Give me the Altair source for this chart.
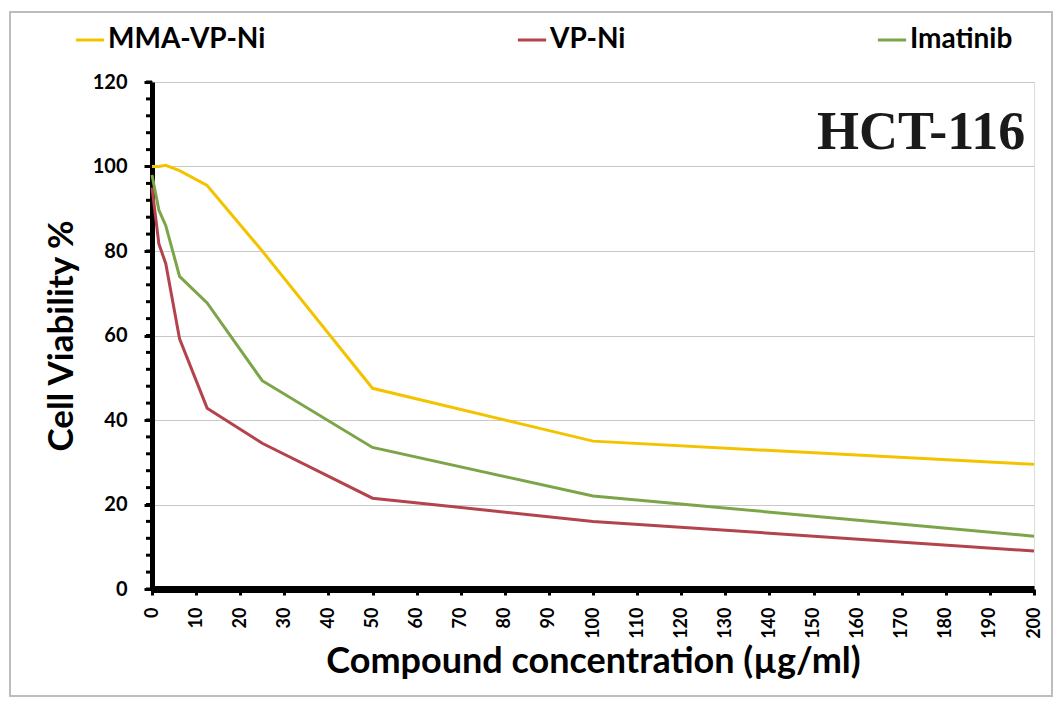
import altair as alt
import pandas as pd

conc = [0, 1.56, 3.125, 6.25, 12.5, 25, 50, 100, 200]
mma_vp_ni = [100, 100, 100.3, 99, 95.5, 80, 47.5, 35, 29.5]
vp_ni = [95, 81.7, 77, 59.2, 42.8, 34.5, 21.5, 16, 9]
imatinib = [98, 89.7, 86, 74, 67.7, 49.3, 33.5, 22, 12.5]
series_names = ["MMA-VP-Ni", "VP-Ni", "Imatinib"]
colors = ["#F4C300", "#B3434C", "#7BA548"]
x_ticks = list(range(0, 201, 10))
y_ticks = list(range(0, 121, 20))
y_minor = list(range(0, 121, 4))

rows = []
for name, vals in zip(series_names, [mma_vp_ni, vp_ni, imatinib]):
    for c, v in zip(conc, vals):
        rows.append({"conc": c, "viability": v, "series": name})
df = pd.DataFrame(rows)

FONT = "Lato"
XT = "Compound concentration (µg/ml)"
YT = "Cell Viability %"

xscale = alt.Scale(domain=[0, 200], nice=False)
yscale = alt.Scale(domain=[0, 120], nice=False)

xaxis = alt.Axis(values=x_ticks, title=XT)
yaxis = alt.Axis(values=y_ticks, title=YT)

lines = alt.Chart(df).mark_line(strokeWidth=3).encode(
    x=alt.X("conc:Q", scale=xscale, axis=xaxis),
    y=alt.Y("viability:Q", scale=yscale, axis=yaxis),
    color=alt.Color("series:N", sort=series_names,
                    scale=alt.Scale(domain=series_names, range=colors),
                    legend=alt.Legend(title=None, orient="none", direction="horizontal",
                                      legendX=-78, legendY=-58,
                                      symbolType="stroke", symbolStrokeWidth=3,
                                      symbolSize=800, columnPadding=245,
                                      labelFont=FONT, labelFontWeight="bold",
                                      labelFontSize=28, labelColor="black",
                                      labelOffset=2, labelLimit=400)),
)

minor = alt.Chart(pd.DataFrame({"v": y_minor})).mark_rule(
    color="black", strokeWidth=3
).encode(
    y=alt.Y("v:Q", scale=yscale, axis=yaxis),
    x=alt.value(-6), x2=alt.value(0),
)

label = alt.Chart(pd.DataFrame({"x": [198], "y": [108], "t": ["HCT-116"]})).mark_text(
    font="Liberation Serif", fontWeight="bold", fontSize=54, align="right",
    baseline="middle", color="#1a1a1a"
).encode(x=alt.X("x:Q", scale=xscale, axis=xaxis),
         y=alt.Y("y:Q", scale=yscale, axis=yaxis), text="t:N")

frame = alt.Chart(pd.DataFrame({"a": [0]})).mark_rect(
    fill=None, stroke="#bdbdbd", strokeWidth=2
).encode(x=alt.value(-142), x2=alt.value(900), y=alt.value(-70), y2=alt.value(614))

chart = alt.layer(frame, lines, minor, label).properties(
    width=882, height=507,
    autosize=alt.AutoSizeParams(type="none"),
    padding={"left": 152, "top": 82, "right": 30, "bottom": 115},
).configure_view(stroke=None).configure(background="white").configure_axis(
    labelFont=FONT, labelFontWeight="bold", labelColor="black",
    titleFont=FONT, titleFontWeight="bold", titleColor="black",
    domainColor="black", tickColor="black", tickWidth=3,
).configure_axisX(
    labelAngle=270, labelAlign="right", labelBaseline="middle",
    labelFontSize=18, labelPadding=12, titleFontSize=36, titlePadding=6,
    domainWidth=7, tickSize=6, grid=False,
).configure_axisY(
    labelFontSize=20, labelPadding=17, titleFontSize=35, titlePadding=13,
    domainWidth=5, tickSize=8, grid=True, gridColor="#c8c8c8", gridWidth=1.2,
)

chart.save("out.html", embed_options={"renderer": "svg", "actions": False})
